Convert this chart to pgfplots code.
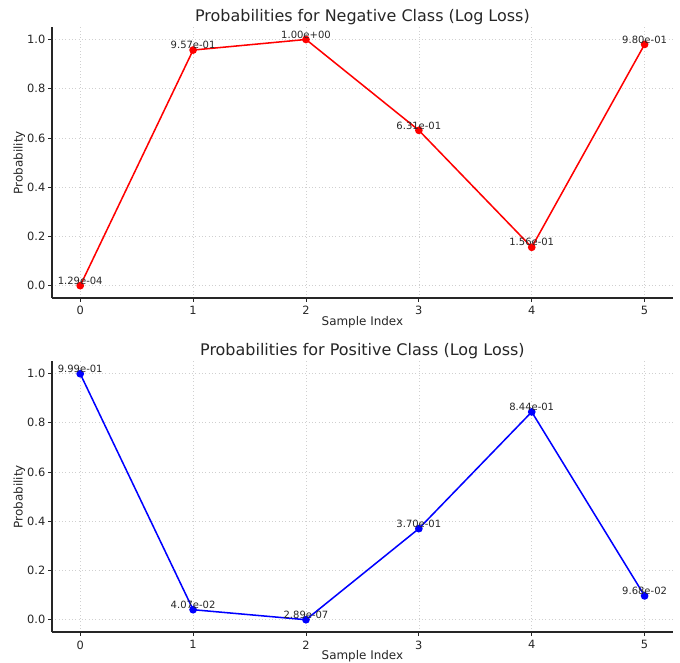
\documentclass[border=0pt]{standalone}
\usepackage{fontspec}
\setmainfont{DejaVu Sans}
\usepackage{pgfplots}
\pgfplotsset{compat=1.18}
\definecolor{txt}{HTML}{262626}
\definecolor{gridc}{HTML}{D0D0D0}

\pgfplotsset{
  probstyle/.style={
    scale only axis,
    width=447pt, height=195pt,
    xmin=-0.25, xmax=5.25, ymin=-0.05, ymax=1.05,
    xtick={0,1,2,3,4,5},
    ytick={0,0.2,0.4,0.6,0.8,1.0},
    axis x line*=bottom, axis y line*=left,
    axis line style={-, txt, line width=0.8pt},
    tick align=outside, major tick length=2.6pt,
    tick style={txt, line width=0.6pt},
    grid=major,
    major grid style={gridc, dotted, line width=0.5pt},
    /pgf/number format/assume math mode=true,
    tick label style={font=\fontsize{8.2}{10}\selectfont, text=txt},
    yticklabel style={inner sep=2pt, /pgf/number format/.cd, fixed, fixed zerofill, precision=1},
    label style={font=\fontsize{8.6}{10}\selectfont, text=txt},
    title style={font=\fontsize{11.5}{13}\selectfont, text=txt, yshift=-7.5pt},
    xlabel={Sample Index},
    ylabel={Probability},
    xlabel style={yshift=6pt},
    ylabel style={yshift=-4pt},
    point meta=explicit symbolic,
    nodes near coords,
    nodes near coords style={font=\fontsize{7.2}{8}\selectfont, text=txt, anchor=south, inner sep=0.3pt},
    clip=false,
  }
}

\begin{document}
\begin{tikzpicture}
\useasboundingbox (-37.44pt,214.56pt) rectangle (452.16pt,-262.08pt);
\begin{axis}[probstyle, at={(0,0)}, anchor=south west,
  title={Probabilities for Negative Class (Log Loss)}]
\addplot[color=red, line width=1.1pt, mark=*, mark size=2.2pt] coordinates {
  (0,0.000129) [1.29e-04]
  (1,0.957) [9.57e-01]
  (2,1.000) [1.00e+00]
  (3,0.631) [6.31e-01]
  (4,0.156) [1.56e-01]
  (5,0.980) [9.80e-01]
};
\end{axis}
\begin{axis}[probstyle, at={(0,-240.5pt)}, anchor=south west,
  title={Probabilities for Positive Class (Log Loss)}]
\addplot[color=blue, line width=1.1pt, mark=*, mark size=2.2pt] coordinates {
  (0,0.999) [9.99e-01]
  (1,0.0407) [4.07e-02]
  (2,0.000000289) [2.89e-07]
  (3,0.370) [3.70e-01]
  (4,0.844) [8.44e-01]
  (5,0.0968) [9.68e-02]
};
\end{axis}
\end{tikzpicture}
\end{document}
